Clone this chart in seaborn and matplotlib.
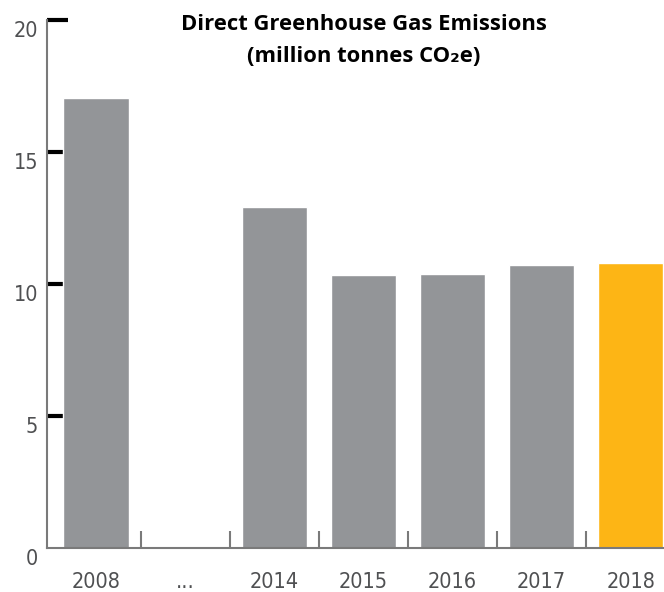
import matplotlib
matplotlib.use("Agg")
import matplotlib.pyplot as plt
import matplotlib.transforms as mtransforms
import seaborn as sns
import pandas as pd
from matplotlib import font_manager

years = ["2008", "...", "2014", "2015", "2016", "2017", "2018"]
emissions = [17.05, 0.0, 12.92, 10.35, 10.38, 10.72, 10.8]
bar_colors = ["#939598", "#939598", "#939598", "#939598", "#939598", "#939598", "#FDB515"]
y_ticks = [0, 5, 10, 15, 20]

sns.set_theme(style="white")
names = {f.name for f in font_manager.fontManager.ttflist}
cond_entries = [f for f in font_manager.fontManager.ttflist
                if ("Narrow" in f.name or "Condensed" in f.name or f.stretch in ("condensed", 'semi-condensed', 'extra-condensed'))
                and f.weight in (400, "normal", "regular") and f.style == "normal"]
cond = cond_entries[0].name if cond_entries else "DejaVu Sans"
cond_stretch = cond_entries[0].stretch if cond_entries else "normal"
plt.rcParams["font.family"] = [cond, "DejaVu Sans"]
plt.rcParams["font.stretch"] = cond_stretch

df = pd.DataFrame({"year": years, "value": emissions})

fig = plt.figure(figsize=(6.64, 5.92), dpi=100)
ax = fig.add_axes([47 / 664, 1 - 548 / 592, 1 - 47 / 664, (548 - 20) / 592])

sns.barplot(data=df, x="year", y="value", hue="year", palette=bar_colors,
            legend=False, width=0.73, ax=ax, saturation=1)

ax.set_xlim(-0.55, 6.374)
ax.set_ylim(0, 20)
ax.set_yticks(y_ticks)
ax.set_yticklabels([str(t) for t in y_ticks])
ax.set_xlabel("")
ax.set_ylabel("")

for s in ["top", "right"]:
    ax.spines[s].set_visible(False)
for s in ["left", "bottom"]:
    ax.spines[s].set_color("#7a7a7a")
    ax.spines[s].set_linewidth(1.5)

label_color = "#4f5052"
ax.tick_params(axis="y", direction="in", length=15, width=3, color="black",
               labelsize=15.5, labelcolor=label_color, pad=6.5, left=True)
ax.tick_params(axis="x", which="major", length=0, labelsize=15.5,
               labelcolor=label_color, pad=17, bottom=True)
ax.set_xticks([i + 0.5 for i in range(6)], minor=True)
ax.tick_params(axis="x", which="minor", direction="in", length=12, width=1.5,
               color="#7a7a7a", bottom=True)
ax.yaxis.get_major_ticks()[0].tick1line.set_visible(False)

offset = mtransforms.ScaledTranslation(0, -9 / 100, fig.dpi_scale_trans)
for lbl in ax.get_yticklabels():
    lbl.set_transform(lbl.get_transform() + offset)

title_font = "Open Sans" if "Open Sans" in names else "DejaVu Sans"
for ypix, txt in [(25, "Direct Greenhouse Gas Emissions"),
                  (57, "(million tonnes CO\u2082e)")]:
    fig.text(364 / 664, 1 - ypix / 592, txt,
             ha="center", va="center", fontsize=15.8, fontweight="bold",
             family=[title_font, "DejaVu Sans"], fontstretch="normal", color="black")

fig.savefig("out.png", dpi=100)
